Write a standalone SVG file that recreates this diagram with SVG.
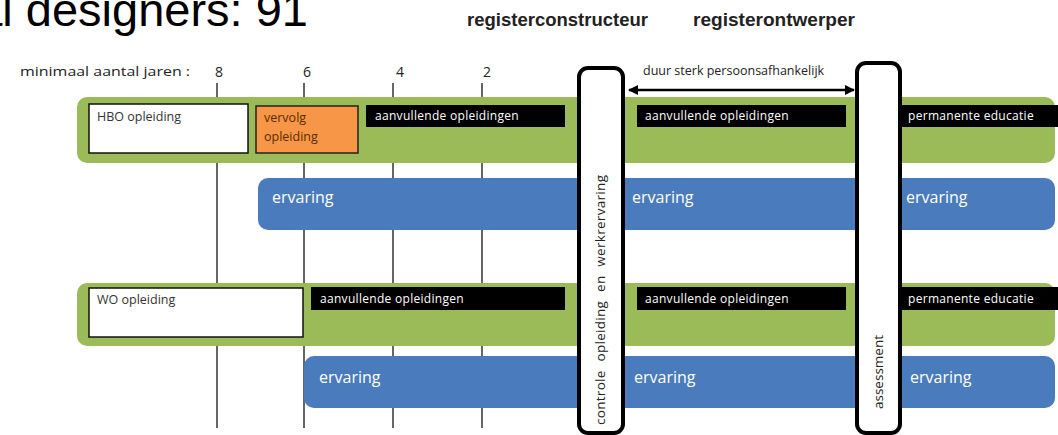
<svg xmlns="http://www.w3.org/2000/svg" width="1058" height="435" viewBox="0 0 1058 435">
<defs>
<marker id="ah" viewBox="0 0 10 10" refX="9" refY="5" markerWidth="4" markerHeight="4" orient="auto-start-reverse">
<path d="M0,0 L10,5 L0,10 z" fill="#000"/>
</marker>
</defs>
<style>
.t{font-family:"Open Sans","Liberation Sans",sans-serif;}
.dark{fill:#333;font-size:12.5px;}
.wh{fill:#fff;font-size:12px;letter-spacing:0.3px;}
.erv{fill:#fff;font-size:16px;}
.green{fill:#9BBB59;}
.blue{fill:#4A7BBC;}
.blk{fill:#000;}
.grid{stroke:#333;stroke-width:1.5;}
.pillar{fill:#fff;stroke:#000;stroke-width:4;}
.head{font-family:"Liberation Sans",Arial,sans-serif;font-weight:bold;font-size:18px;fill:#222;}
</style>
<rect width="1058" height="435" fill="#fff"/>
<g id="title">
<text x="308" y="26" text-anchor="end" font-family="Liberation Sans, Arial, sans-serif" font-size="47" fill="#000">al designers: 91</text>
</g>
<g id="headings">
<text class="head" x="467" y="26" textLength="181" lengthAdjust="spacingAndGlyphs">registerconstructeur</text>
<text class="head" x="693" y="26" textLength="162" lengthAdjust="spacingAndGlyphs">registerontwerper</text>
</g>
<g id="axis">
<text class="t" x="20" y="76" font-size="13" fill="#222" textLength="170" lengthAdjust="spacingAndGlyphs">minimaal aantal jaren :</text>
<text class="t" x="219" y="77" font-size="14" fill="#222" text-anchor="middle">8</text>
<text class="t" x="307" y="77" font-size="14" fill="#222" text-anchor="middle">6</text>
<text class="t" x="400" y="77" font-size="14" fill="#222" text-anchor="middle">4</text>
<text class="t" x="487" y="77" font-size="14" fill="#222" text-anchor="middle">2</text>
<line class="grid" x1="217" y1="83" x2="217" y2="428"/>
<line class="grid" x1="304" y1="83" x2="304" y2="428"/>
<line class="grid" x1="393" y1="83" x2="393" y2="428"/>
<line class="grid" x1="482" y1="83" x2="482" y2="428"/>
</g>
<g id="hbo-band">
<rect class="green" x="77" y="97" width="978" height="66" rx="10"/>
<rect x="89" y="104" width="159" height="49" fill="#fff" stroke="#111" stroke-width="1.5"/>
<text class="t dark" x="97" y="121">HBO opleiding</text>
<rect x="256" y="106" width="102" height="47" fill="#F79646" stroke="#222" stroke-width="1.5"/>
<text class="t" x="264" y="122" font-size="12.5" fill="#5a2a00">vervolg</text>
<text class="t" x="264" y="141" font-size="12.5" fill="#5a2a00">opleiding</text>
<rect class="blk" x="366" y="105" width="199" height="22"/>
<text class="t wh" x="375" y="120">aanvullende opleidingen</text>
<rect class="blk" x="637" y="105" width="209" height="22"/>
<text class="t wh" x="645" y="120">aanvullende opleidingen</text>
<rect class="blk" x="901" y="105" width="157" height="22"/>
<text class="t wh" x="908" y="120">permanente educatie</text>
</g>
<g id="hbo-ervaring">
<rect class="blue" x="258" y="178" width="797" height="52" rx="10"/>
<text class="t erv" x="272" y="203">ervaring</text>
<text class="t erv" x="632" y="203">ervaring</text>
<text class="t erv" x="906" y="203">ervaring</text>
</g>
<g id="wo-band">
<rect class="green" x="77" y="283" width="978" height="63" rx="10"/>
<rect x="89" y="288" width="214" height="49" fill="#fff" stroke="#111" stroke-width="1.5"/>
<text class="t dark" x="97" y="304">WO opleiding</text>
<rect class="blk" x="311" y="287" width="254" height="23"/>
<text class="t wh" x="320" y="303">aanvullende opleidingen</text>
<rect class="blk" x="637" y="287" width="209" height="23"/>
<text class="t wh" x="645" y="303">aanvullende opleidingen</text>
<rect class="blk" x="901" y="287" width="157" height="23"/>
<text class="t wh" x="908" y="303">permanente educatie</text>
</g>
<g id="wo-ervaring">
<rect class="blue" x="304" y="356" width="751" height="52" rx="10"/>
<text class="t erv" x="319" y="383">ervaring</text>
<text class="t erv" x="634" y="383">ervaring</text>
<text class="t erv" x="910" y="383">ervaring</text>
</g>
<g id="controle">
<rect class="pillar" x="579" y="68" width="44" height="365" rx="9"/>
<text class="t" transform="translate(605,300) rotate(-90)" text-anchor="middle" font-size="13.5" fill="#222" word-spacing="5" textLength="250" lengthAdjust="spacing">controle opleiding en werkrervaring</text>
</g>
<g id="assessment">
<rect class="pillar" x="857" y="63" width="43" height="370" rx="9"/>
<text class="t" transform="translate(883,372) rotate(-90)" text-anchor="middle" font-size="13.5" fill="#222">assessment</text>
</g>
<g id="connectors">
<line x1="629" y1="90" x2="854" y2="90" stroke="#000" stroke-width="2.5" marker-start="url(#ah)" marker-end="url(#ah)"/>
<text class="t" x="643" y="75" font-size="12.5" fill="#222">duur sterk persoonsafhankelijk</text>
</g>
</svg>
